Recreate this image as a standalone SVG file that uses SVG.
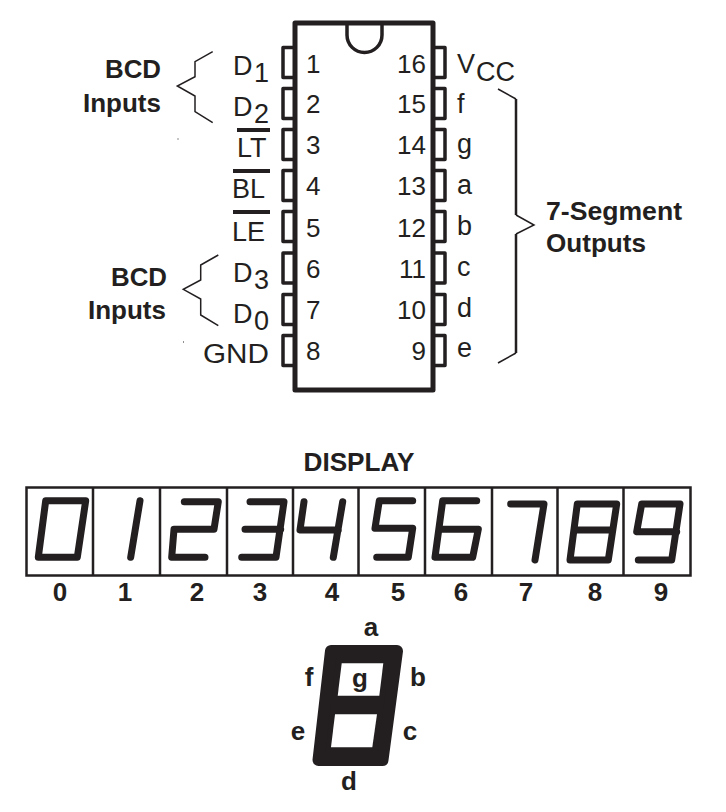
<svg xmlns="http://www.w3.org/2000/svg" width="726" height="812" viewBox="0 0 726 812">
<defs>
<style>
text{font-family:"Liberation Sans",Arial,sans-serif;fill:#231f20}
.r{font-size:27px}
.n{font-size:26px}
.m{text-anchor:middle}
.e{text-anchor:end}
.b{font-size:26px;font-weight:bold}
.ln{fill:none;stroke:#231f20;stroke-width:5;stroke-linejoin:round}
.pin{fill:#fff;stroke:#231f20;stroke-width:3.5;stroke-linejoin:round}
.br{fill:none;stroke:#231f20;stroke-width:1.5}
.br2{fill:none;stroke:#231f20;stroke-width:2.5}
.box{fill:#fff;stroke:#231f20;stroke-width:2.500}
.seg{fill:none;stroke:#231f20;stroke-width:7;stroke-linejoin:round;stroke-linecap:round}
.ov{fill:#231f20}
</style>
</defs>
<rect width="726" height="812" fill="#fff"/>
<g id="connectors">
<path class="br" d="M212.700 51.700L195 61.700V76.700L177.300 86L195 96V111.700L212.700 122.700"/>
<path class="br" d="M218.300 255L200.700 265V280L183.300 289.300L200.700 299V315L218.300 325.700"/>
<path class="br" d="M498 89L516 99M516 215L534 225L516 234M516 353L498 363"/>
<path class="br2" d="M516 99V215M516 234V353"/>
<rect class="ov" x="177.500" y="138.500" width="1" height="1"/>
<rect class="ov" x="183" y="341.500" width="1" height="1"/>
</g>
<g id="chip">
<path class="pin" d="M294 47.500H283V77.500H294M294 88.500H283V118.500H294M294 129.500H283V159.500H294M294 170.500H283V200.500H294M294 211.500H283V241.500H294M294 253H283V283H294M294 294.500H283V324.500H294M294 335.500H283V365.500H294"/>
<path class="pin" d="M434 47.500H445V77.500H434M434 88.500H445V118.500H434M434 129.500H445V159.500H434M434 170.500H445V200.500H434M434 211.500H445V241.500H434M434 253H445V283H434M434 294.500H445V324.500H434M434 335.500H445V365.500H434"/>
<rect class="ln" x="295" y="23" width="138" height="367"/>
<path fill="none" stroke="#231f20" stroke-width="3.500" d="M347 23V35A17.500 17.500 0 0 0 382 35V23"/>
</g>
<g id="left-pins">
<text class="r" x="233" y="75">D</text><text class="r" x="254" y="82">1</text>
<text class="r" x="233" y="116">D</text><text class="r" x="254" y="123">2</text>
<text class="r" x="237" y="157">LT</text><rect class="ov" x="237" y="128" width="33" height="4"/>
<text class="r" x="232" y="198">BL</text><rect class="ov" x="233" y="169" width="37" height="4"/>
<text class="r" x="232" y="241">LE</text><rect class="ov" x="233" y="210" width="37" height="4"/>
<text class="r" x="233" y="282">D</text><text class="r" x="254" y="289">3</text>
<text class="r" x="233" y="323">D</text><text class="r" x="254" y="330">0</text>
<text class="r" x="203" y="363" textLength="66" lengthAdjust="spacingAndGlyphs">GND</text>
<text class="n" x="306" y="73">1</text>
<text class="n" x="306" y="113">2</text>
<text class="n" x="306" y="154">3</text>
<text class="n" x="306" y="195">4</text>
<text class="n" x="306" y="237">5</text>
<text class="n" x="306" y="278">6</text>
<text class="n" x="306" y="319">7</text>
<text class="n" x="306" y="360">8</text>
</g>
<g id="right-pins">
<text class="n e" x="426" y="73">16</text>
<text class="n e" x="426" y="113">15</text>
<text class="n e" x="426" y="154">14</text>
<text class="n e" x="426" y="195">13</text>
<text class="n e" x="426" y="237">12</text>
<text class="n e" x="426" y="278">11</text>
<text class="n e" x="426" y="319">10</text>
<text class="n e" x="426" y="360">9</text>
<text class="r" x="457" y="73">V</text><text class="r" x="476" y="81" textLength="39" lengthAdjust="spacingAndGlyphs">CC</text>
<text class="r" x="457" y="113">f</text>
<text class="r" x="457" y="153">g</text>
<text class="r" x="457" y="194">a</text>
<text class="r" x="457" y="235">b</text>
<text class="r" x="457" y="276">c</text>
<text class="r" x="457" y="317">d</text>
<text class="r" x="457" y="357">e</text>
</g>
<g id="label-bcd-1">
<text class="b" x="105" y="78" textLength="56" lengthAdjust="spacingAndGlyphs">BCD</text>
<text class="b" x="83" y="112" textLength="78" lengthAdjust="spacingAndGlyphs">Inputs</text>
</g>
<g id="label-bcd-2">
<text class="b" x="111" y="286" textLength="56" lengthAdjust="spacingAndGlyphs">BCD</text>
<text class="b" x="88" y="319" textLength="78" lengthAdjust="spacingAndGlyphs">Inputs</text>
</g>
<g id="label-outputs">
<text class="b" x="546" y="220" textLength="136" lengthAdjust="spacingAndGlyphs">7-Segment</text>
<text class="b" x="546" y="252" textLength="100" lengthAdjust="spacingAndGlyphs">Outputs</text>
</g>
<g id="display">
<text class="b m" x="359" y="471" textLength="111" lengthAdjust="spacingAndGlyphs">DISPLAY</text>
<rect class="box" x="26.500" y="487.500" width="664" height="88"/>
<path class="box" d="M93 487.500V575.500M160 487.500V575.500M227 487.500V575.500M293 487.500V575.500M358.500 487.500V575.500M425 487.500V575.500M492 487.500V575.500M557.500 487.500V575.500M623.500 487.500V575.500"/>
<path class="seg" d="M45.700 500.700H85.700L77.300 557.300H38.300Z"/>
<path class="seg" d="M140 500.700L130.700 557.300"/>
<path class="seg" d="M184.300 501.700H218.300L214 529.300H174L171.700 557.300H205"/>
<path class="seg" d="M250 501.700H284L276 557.300H241.700M245 529.300H280.700"/>
<path class="seg" d="M304 501.700L300 530H338.300M342.700 501.700L333.300 557.300"/>
<path class="seg" d="M412.700 500.700H379.300L375 528.300H412.700L408.300 557.300H376.700"/>
<path class="seg" d="M476.700 500.700H442.700L435 557.300H472.700L478.300 529.300H439.300"/>
<path class="seg" d="M510.700 504H544L535 560"/>
<path class="seg" d="M577.300 504H616.700L608.300 560H570ZM574 530H612.700"/>
<path class="seg" d="M680 504H641.700L636.700 531.700H676.700M680 504L671.700 560H638.300"/>
<text class="b m" x="60" y="601">0</text>
<text class="b m" x="125" y="601">1</text>
<text class="b m" x="197" y="601">2</text>
<text class="b m" x="260" y="601">3</text>
<text class="b m" x="332" y="601">4</text>
<text class="b m" x="398" y="601">5</text>
<text class="b m" x="461" y="601">6</text>
<text class="b m" x="526" y="601">7</text>
<text class="b m" x="595" y="601">8</text>
<text class="b m" x="661" y="601">9</text>
</g>
<g id="segment-key">
<path fill="#231f20" stroke="#231f20" stroke-width="12" stroke-linejoin="round" d="M331 651H397L382.500 760H318.500Z"/>
<path fill="#fff" d="M341.700 663.300H383.300L379.300 695.700H337.700Z"/>
<path fill="#fff" d="M335 714.300H377L372.300 747.300H331Z"/>
<text class="b m" x="371" y="636">a</text>
<text class="b m" x="309" y="686">f</text>
<text class="b m" x="360" y="687">g</text>
<text class="b m" x="418" y="686">b</text>
<text class="b m" x="298" y="740">e</text>
<text class="b m" x="410" y="740">c</text>
<text class="b m" x="349" y="790">d</text>
</g>
</svg>
